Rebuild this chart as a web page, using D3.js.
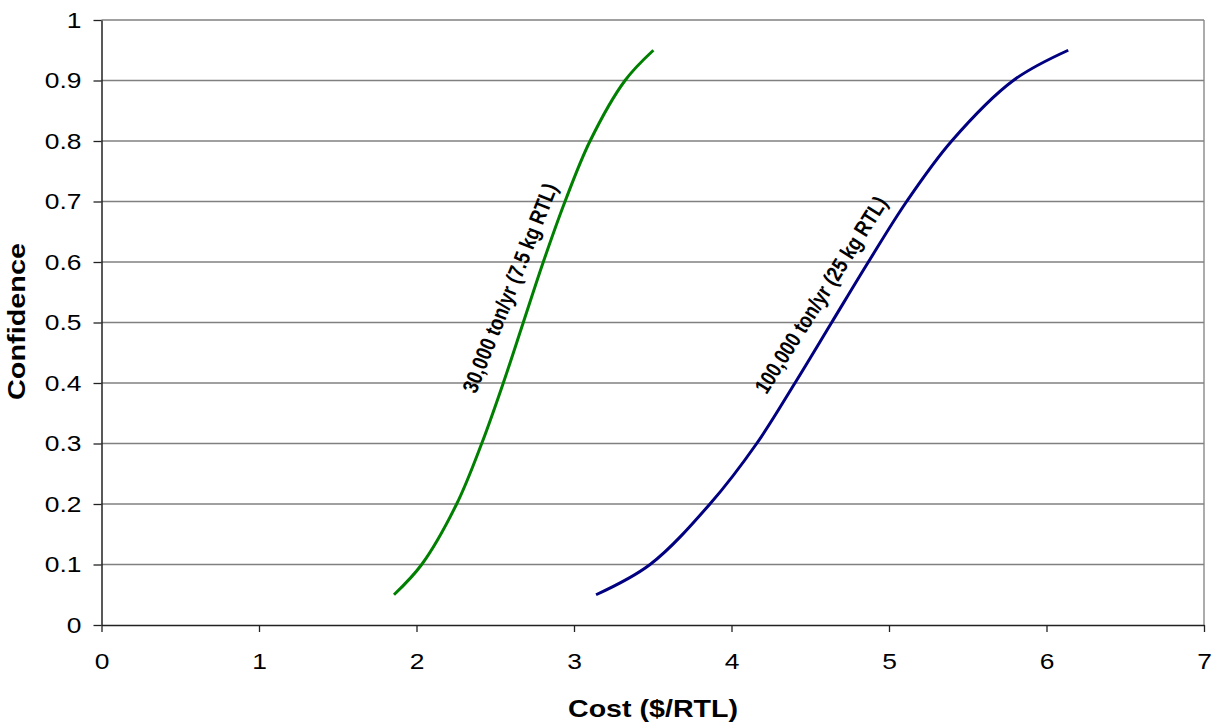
<!DOCTYPE html>
<html><head><meta charset="utf-8">
<script src="https://cdn.jsdelivr.net/npm/d3@7"></script>
<style>
html,body{margin:0;padding:0;background:#fff;}
text{font-family:"Liberation Sans",Arial,sans-serif;}
</style></head>
<body>
<svg id="chart" width="1214" height="723"></svg>
<script>
// Data
const confidence = [0.05, 0.1, 0.2, 0.3, 0.4, 0.5, 0.6, 0.7, 0.8, 0.9, 0.95];
const cost30k  = [1.857, 2.033, 2.255, 2.414, 2.551, 2.678, 2.805, 2.943, 3.102, 3.324, 3.504];
const cost100k = [3.140, 3.483, 3.863, 4.160, 4.403, 4.636, 4.869, 5.112, 5.398, 5.789, 6.138];
const seriesNames = ["30,000 ton/yr (7.5 kg RTL)", "100,000 ton/yr (25 kg RTL)"];
const xTicks = [0, 1, 2, 3, 4, 5, 6, 7];
const yTicks = [0, 0.1, 0.2, 0.3, 0.4, 0.5, 0.6, 0.7, 0.8, 0.9, 1];

const svg = d3.select("#chart");
const L = 101.5, R = 1204, T = 20, B = 625;
const x = d3.scaleLinear().domain([0, 7]).range([L, R]);
const y = d3.scaleLinear().domain([0, 1]).range([B, T]);

function stretch(sel, k) {
  sel.each(function () {
    const w = this.getComputedTextLength();
    d3.select(this).attr("textLength", w * k).attr("lengthAdjust", "spacingAndGlyphs");
  });
}

// gridlines
svg.append("g").selectAll("line").data(yTicks.filter(d => d > 0)).join("line")
  .attr("x1", L).attr("x2", R).attr("y1", d => y(d)).attr("y2", d => y(d))
  .attr("stroke", "#808080").attr("stroke-width", 1.3);
// right border
svg.append("line").attr("x1", R).attr("x2", R).attr("y1", T).attr("y2", B)
  .attr("stroke", "#808080").attr("stroke-width", 1.3);

// axes
const xAxis = svg.append("g").attr("transform", `translate(0,${B})`)
  .call(d3.axisBottom(x).tickValues(xTicks).tickFormat(d3.format("d")).tickSizeOuter(0).tickSizeInner(7).tickPadding(21));
const yAxis = svg.append("g").attr("transform", `translate(${L},0)`)
  .call(d3.axisLeft(y).tickValues(yTicks).tickFormat(d => d === 0 ? "0" : d === 1 ? "1" : d3.format(".1f")(d)).tickSizeOuter(0).tickSizeInner(8).tickPadding(12));
[xAxis, yAxis].forEach(a => {
  a.select(".domain").attr("stroke", "#222").attr("stroke-width", 1.5);
  a.selectAll(".tick line").attr("stroke", "#222").attr("stroke-width", 1.3);
  a.selectAll("text").attr("font-size", 22).attr("fill", "#000")
    .style("font-family", '"Liberation Sans",Arial,sans-serif');
});
xAxis.selectAll("text").attr("dy", "0.71em");
stretch(xAxis.selectAll("text"), 1.2);
stretch(yAxis.selectAll("text"), 1.2);

// lines
const line = d3.line().curve(d3.curveCatmullRom.alpha(0.5));
const s1 = confidence.map((c, i) => [x(cost30k[i]), y(c)]);
const s2 = confidence.map((c, i) => [x(cost100k[i]), y(c)]);
svg.append("path").attr("d", line(s1)).attr("fill", "none").attr("stroke", "#008000").attr("stroke-width", 3);
svg.append("path").attr("d", line(s2)).attr("fill", "none").attr("stroke", "#000080").attr("stroke-width", 3);

// series labels
svg.append("text").text(seriesNames[0])
  .attr("transform", "translate(510,288) rotate(-68.4)")
  .attr("text-anchor", "middle").attr("dominant-baseline", "central")
  .attr("font-size", 22).attr("font-weight", "bold")
  .attr("textLength", 223).attr("lengthAdjust", "spacingAndGlyphs");
svg.append("text").text(seriesNames[1])
  .attr("transform", "translate(821,295) rotate(-57.7)")
  .attr("text-anchor", "middle").attr("dominant-baseline", "central")
  .attr("font-size", 22).attr("font-weight", "bold")
  .attr("textLength", 228).attr("lengthAdjust", "spacingAndGlyphs");

// axis titles
svg.append("text").text("Cost ($/RTL)")
  .attr("x", 653).attr("y", 717).attr("text-anchor", "middle")
  .attr("font-size", 24).attr("font-weight", "bold")
  .attr("textLength", 170).attr("lengthAdjust", "spacingAndGlyphs");
svg.append("text").text("Confidence")
  .attr("transform", "translate(25,321.5) rotate(-90)").attr("text-anchor", "middle")
  .attr("font-size", 24).attr("font-weight", "bold")
  .attr("textLength", 157).attr("lengthAdjust", "spacingAndGlyphs");
</script>
</body></html>
